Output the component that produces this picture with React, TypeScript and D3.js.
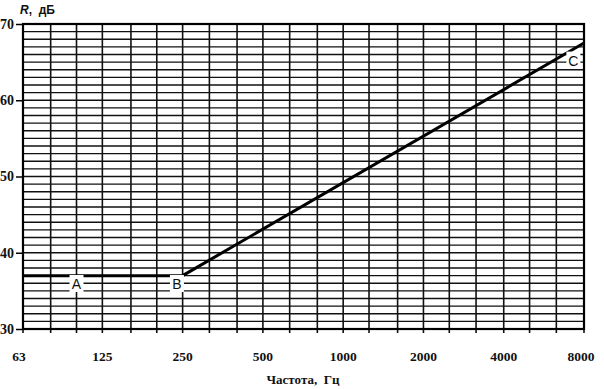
import React, { useRef, useEffect } from 'react';
import * as d3 from 'd3';

// third-octave bands (vertical grid lines)
const bands = [63, 80, 100, 125, 160, 200, 250, 315, 400, 500, 630, 800, 1000, 1250, 1600, 2000, 2500, 3150, 4000, 5000, 6300, 8000];
const xTickLabels = [63, 125, 250, 500, 1000, 2000, 4000, 8000];
const yTicks = [30, 40, 50, 60, 70];

// curve A-B-C
const freq = [63, 250, 8000];
const level = [37, 37, 67.5];
const pointLabels = [
  { name: 'A', f: 100, r: 35.9 },
  { name: 'B', f: 238, r: 35.9 },
  { name: 'C', f: 7300, r: 65.2 },
];

function App() {
  const svgRef = useRef<SVGSVGElement>(null);

  useEffect(() => {
    const svg = d3.select(svgRef.current);
    svg.selectAll('*').remove();

    const width = 604;
    const height = 389;
    const margin = { top: 24, right: 20, bottom: 60, left: 23 };

    const x = d3.scaleLog()
      .domain([63, 8000])
      .range([margin.left, width - margin.right]);

    const y = d3.scaleLinear()
      .domain([30, 70])
      .range([height - margin.bottom, margin.top]);

    svg.append('rect')
      .attr('width', width)
      .attr('height', height)
      .attr('fill', '#fff');

    // horizontal grid, every 1 dB
    svg.append('g')
      .selectAll('line')
      .data(d3.range(31, 70))
      .join('line')
      .attr('x1', x(63))
      .attr('x2', x(8000))
      .attr('y1', d => y(d))
      .attr('y2', d => y(d))
      .attr('stroke', '#111')
      .attr('stroke-width', d => (d % 10 === 0 ? 1.6 : 1.3));

    // vertical grid
    svg.append('g')
      .selectAll('line')
      .data(bands)
      .join('line')
      .attr('x1', d => x(d))
      .attr('x2', d => x(d))
      .attr('y1', y(70))
      .attr('y2', y(30) + 4)
      .attr('stroke', '#111')
      .attr('stroke-width', 1.6);

    // frame
    svg.append('rect')
      .attr('x', x(63))
      .attr('y', y(70))
      .attr('width', x(8000) - x(63))
      .attr('height', y(30) - y(70))
      .attr('fill', 'none')
      .attr('stroke', '#000')
      .attr('stroke-width', 2.2);

    // y axis ticks
    const yAxis = svg.append('g')
      .attr('transform', `translate(${margin.left}, 0)`)
      .call(d3.axisLeft(y).tickValues(yTicks).tickSize(7).tickPadding(2).tickFormat(d3.format('d')));
    yAxis.select('.domain').remove();
    yAxis.selectAll('line').attr('stroke', '#000').attr('stroke-width', 1.5);
    yAxis.selectAll('text')
      .attr('font-family', '"Liberation Serif", serif')
      .attr('font-size', 14)
      .attr('font-weight', 'bold')
      .attr('fill', '#111');

    // x axis labels
    svg.append('g')
      .selectAll('text')
      .data(xTickLabels)
      .join('text')
      .attr('x', d => x(d) - (d === 63 ? 4 : d === 8000 ? 3 : 0))
      .attr('y', 361)
      .attr('text-anchor', 'middle')
      .attr('font-family', '"Liberation Serif", serif')
      .attr('font-size', 13.5)
      .attr('font-weight', 'bold')
      .attr('fill', '#111')
      .text(d => d);

    // the curve
    const pts = freq.map((f, i) => [f, level[i]] as [number, number]);
    svg.append('path')
      .datum(pts)
      .attr('d', d3.line<[number, number]>().x(d => x(d[0])).y(d => y(d[1])))
      .attr('fill', 'none')
      .attr('stroke', '#000')
      .attr('stroke-width', 3);

    // point labels with white box
    const lab = svg.append('g')
      .selectAll('g')
      .data(pointLabels)
      .join('g')
      .attr('transform', d => `translate(${x(d.f)}, ${y(d.r)})`);
    lab.append('rect')
      .attr('x', -7)
      .attr('y', -9)
      .attr('width', 14)
      .attr('height', 17)
      .attr('fill', '#fff');
    lab.append('text')
      .attr('text-anchor', 'middle')
      .attr('dy', '0.36em')
      .attr('font-family', '"Liberation Sans", sans-serif')
      .attr('font-size', 14)
      .attr('fill', '#111')
      .text(d => d.name);

    // axis titles
    const yt = svg.append('text')
      .attr('x', 20)
      .attr('y', 14)
      .attr('font-family', '"Liberation Sans", sans-serif')
      .attr('font-size', 12)
      .attr('font-weight', 'bold')
      .attr('fill', '#111')
      .attr('xml:space', 'preserve');
    yt.append('tspan').attr('font-style', 'italic').text('R');
    yt.append('tspan').text(',  дБ');

    svg.append('text')
      .attr('x', 303)
      .attr('y', 384)
      .attr('text-anchor', 'middle')
      .attr('font-family', '"Liberation Serif", serif')
      .attr('font-size', 13)
      .attr('font-weight', 'bold')
      .attr('fill', '#111')
      .attr('xml:space', 'preserve')
      .text('Частота,  Гц');
  }, []);

  return (
    <svg ref={svgRef} width={604} height={389}
      style={{ position: 'absolute', left: 0, top: 0, display: 'block' }} />
  );
}

export default App;
